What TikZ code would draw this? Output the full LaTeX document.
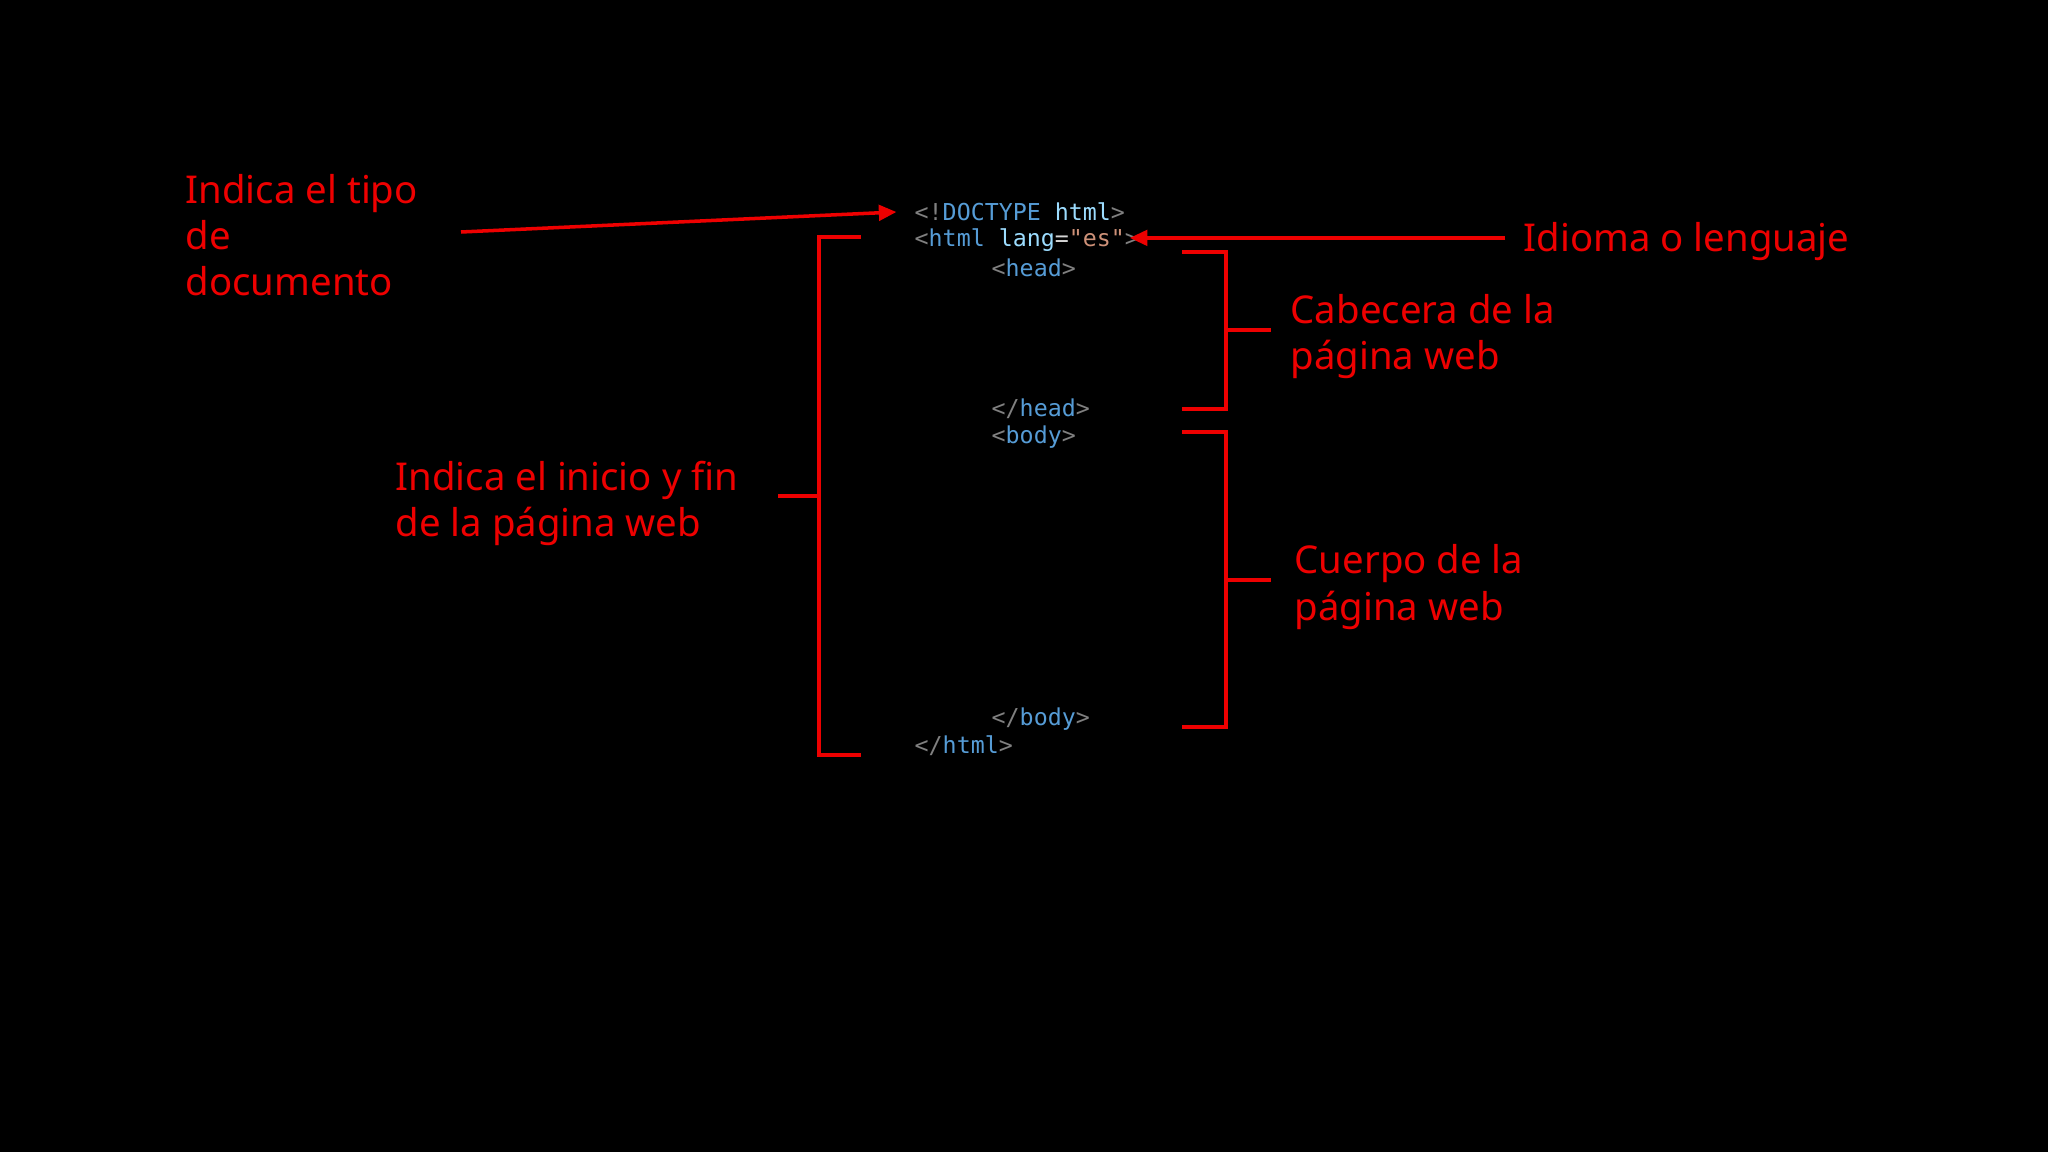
\documentclass[tikz,border=0pt]{standalone}
\usepackage{fontspec}
\setmainfont{Noto Sans}
\setmonofont{DejaVu Sans Mono}
\usetikzlibrary{arrows.meta,positioning}

\definecolor{notered}{HTML}{EE0000}
\definecolor{punct}{HTML}{808080}
\definecolor{tagblue}{HTML}{569CD6}
\definecolor{attrblue}{HTML}{9CDCFE}
\definecolor{strorange}{HTML}{CE9178}
\definecolor{eqgray}{HTML}{D4D4D4}

\newcommand{\pn}[1]{\textcolor{punct}{#1}}
\newcommand{\tg}[1]{\textcolor{tagblue}{#1}}
\newcommand{\at}[1]{\textcolor{attrblue}{#1}}

\tikzset{
  note/.style={text=notered, font=\fontsize{10.9}{13.1}\selectfont, align=left, anchor=west, inner sep=0pt},
  code/.style={font=\ttfamily\fontsize{6.62}{8}\selectfont, anchor=west, inner sep=0pt},
  pointer/.style={draw=notered, line width=1pt, -{Triangle[length=5pt,width=4.4pt]}},
  bracket/.style={draw=notered, line width=1.05pt},
}

\begin{document}
\begin{tikzpicture}[x=0.01cm,y=-0.01cm]
  \fill[black] (0,0) rectangle (2048,1152);

  % code lines
  \node[code] (doctype)   at (914,212) {\pn{<!}\tg{DOCTYPE} \at{html}\pn{>}};
  \node[code] (htmlopen)  at (914,240) {\pn{<}\tg{html} \at{lang}\textcolor{eqgray}{=}\textcolor{strorange}{"es"}\pn{>}};
  \node[code] (headopen)  at (991,268) {\pn{<}\tg{head}\pn{>}};
  \node[code] (headclose) at (991,409) {\pn{</}\tg{head}\pn{>}};
  \node[code] (bodyopen)  at (991,437) {\pn{<}\tg{body}\pn{>}};
  \node[code] (bodyclose) at (991,719) {\pn{</}\tg{body}\pn{>}};
  \node[code] (htmlclose) at (914,746) {\pn{</}\tg{html}\pn{>}};

  % brackets
  \coordinate (htmltick) at (778,496);
  \coordinate (headtick) at (1271,330);
  \coordinate (bodytick) at (1271,580);
  \draw[bracket] (861,237) -| (819,755) -- (861,755);
  \draw[bracket] (819,496) -- (htmltick);
  \draw[bracket] (1182,252) -| (1226,409) -- (1182,409);
  \draw[bracket] (1226,330) -- (headtick);
  \draw[bracket] (1182,432) -| (1226,727) -- (1182,727);
  \draw[bracket] (1226,580) -- (bodytick);

  % notes
  \node[note] (tipo) at (185,235) {Indica el tipo\\de\\documento};
  \coordinate (tipoend) at (461,232);
  \node[note, left=0.39cm of htmltick, anchor=east, yshift=-2pt] (inicio) {Indica el inicio y fin\\de la página web};
  \node[note, right=0.19cm of headtick, yshift=-1.8pt] (cabecera) {Cabecera de la\\página web};
  \node[note, right=0.23cm of bodytick, yshift=-2pt] (cuerpo) {Cuerpo de la\\página web};
  \node[note] (idioma) at (1523,242) {Idioma o lenguaje};

  \draw[pointer] (tipoend) -- ([xshift=-5pt]doctype.west);
  \draw[pointer] ([xshift=-5pt,yshift=0.6pt]idioma.west |- htmlopen.east) -- ([xshift=-2.8pt,yshift=0.6pt]htmlopen.east);
\end{tikzpicture}
\end{document}
